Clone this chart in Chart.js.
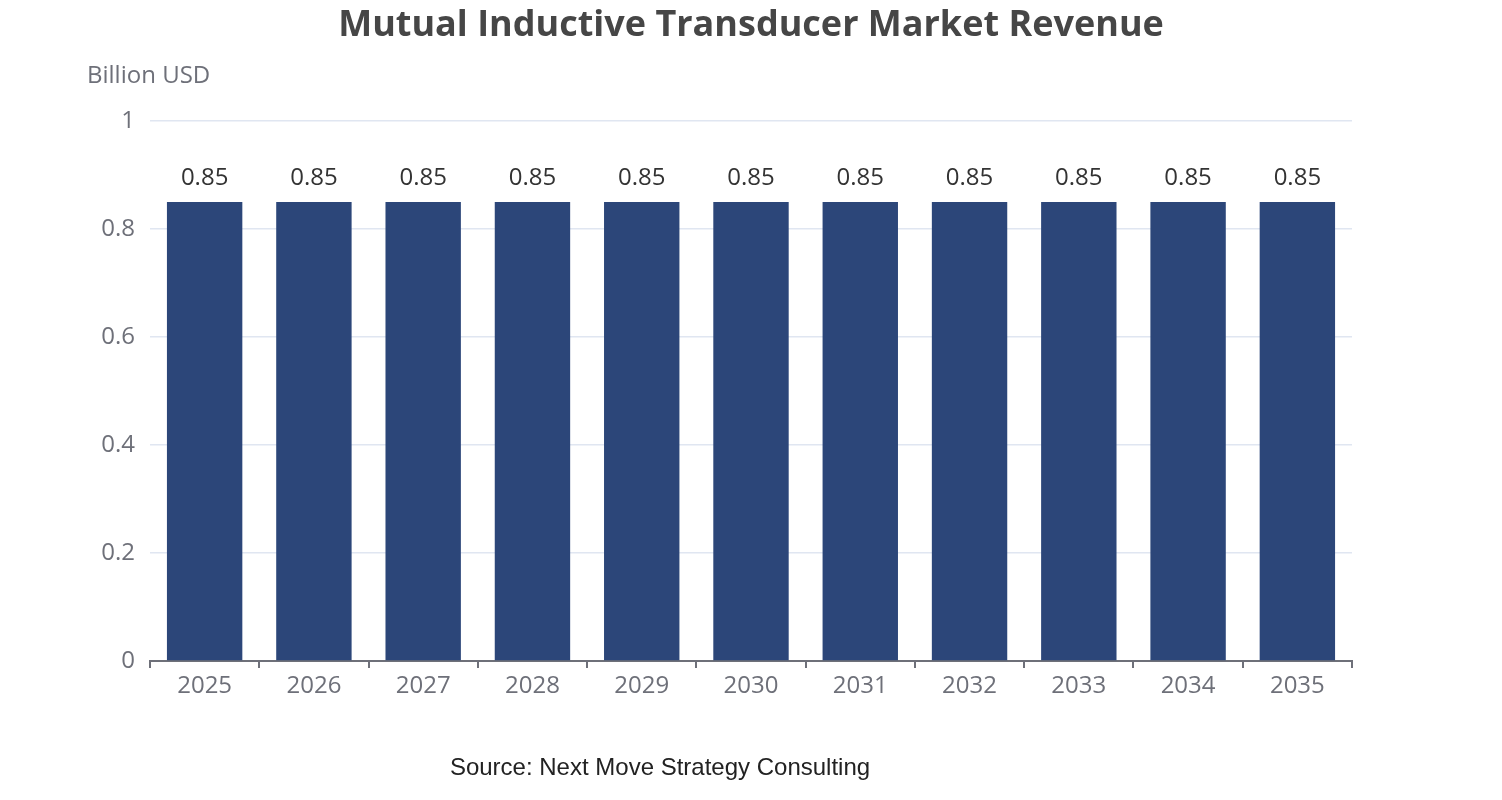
<!DOCTYPE html>
<html>
<head>
<meta charset="utf-8">
<script src="https://cdn.jsdelivr.net/npm/chart.js@4"></script>
<style>
  html, body { margin: 0; padding: 0; background: #fff; }
  #wrap { width: 1502px; height: 800px; }
</style>
</head>
<body>
<div id="wrap"><canvas id="revenue-chart" width="1502" height="800"></canvas></div>
<script>
// Dados do gráfico
const years = ['2025', '2026', '2027', '2028', '2029', '2030', '2031', '2032', '2033', '2034', '2035'];
const revenue = [0.85, 0.85, 0.85, 0.85, 0.85, 0.85, 0.85, 0.85, 0.85, 0.85, 0.85];
const yTicks = [0, 0.2, 0.4, 0.6, 0.8, 1];

const chartTitle = 'Mutual Inductive Transducer Market Revenue';
const unitLabel = 'Billion USD';
const sourceLabel = 'Source: Next Move Strategy Consulting';

// Plugin para título, unidade, fonte e rótulos das barras
const extrasPlugin = {
    id: 'extras',
    afterDraw(chart) {
        const ctx = chart.ctx;
        ctx.save();

        // Título
        ctx.fillStyle = '#464646';
        ctx.font = 'bold 36px "Open Sans"';
        ctx.textAlign = 'center';
        ctx.textBaseline = 'middle';
        ctx.fillText(chartTitle, 751, 26);

        // Unidade do eixo Y
        ctx.fillStyle = '#6e7079';
        ctx.font = '24px "Open Sans"';
        ctx.textAlign = 'left';
        ctx.fillText(unitLabel, 87, 76);

        // Fonte
        ctx.fillStyle = '#222';
        ctx.font = '24px "Liberation Sans"';
        ctx.textAlign = 'center';
        ctx.fillText(sourceLabel, 660, 768);

        // Rótulos das barras
        const meta = chart.getDatasetMeta(0);
        ctx.fillStyle = '#333';
        ctx.font = '24px "Open Sans"';
        ctx.textBaseline = 'middle';
        meta.data.forEach((bar, i) => {
            ctx.fillText(revenue[i].toFixed(2), bar.x, bar.y - 24);
        });

        ctx.restore();
    }
};

const ctx = document.getElementById('revenue-chart').getContext('2d');
new Chart(ctx, {
    type: 'bar',
    data: {
        labels: years,
        datasets: [{
            data: revenue,
            backgroundColor: '#2c4679',
            barPercentage: 0.69,
            categoryPercentage: 1.0,
        }],
    },
    options: {
        responsive: false,
        animation: false,
        layout: { padding: { top: 121, right: 150, left: 0, bottom: 0 } },
        plugins: {
            legend: { display: false },
            tooltip: { enabled: false },
        },
        scales: {
            x: {
                afterFit: (scale) => { scale.height = 139; },
                grid: {
                    offset: true,
                    drawOnChartArea: false,
                    drawTicks: true,
                    tickLength: 7,
                    color: '#6e7079',
                    lineWidth: 2,
                },
                border: { color: '#6e7079', width: 2 },
                ticks: {
                    color: '#6e7079',
                    font: { family: 'Open Sans', size: 24 },
                    padding: 4,
                },
            },
            y: {
                min: 0,
                max: 1,
                afterFit: (scale) => { scale.width = 150; },
                afterBuildTicks: (scale) => { scale.ticks = yTicks.map(v => ({ value: v })); },
                grid: { color: '#e0e6f1', lineWidth: 1.5, drawTicks: false },
                border: { display: false },
                ticks: {
                    color: '#6e7079',
                    font: { family: 'Open Sans', size: 24 },
                    padding: 15,
                    callback: (v) => String(v),
                },
            },
        },
    },
    plugins: [extrasPlugin],
});
</script>
</body>
</html>
